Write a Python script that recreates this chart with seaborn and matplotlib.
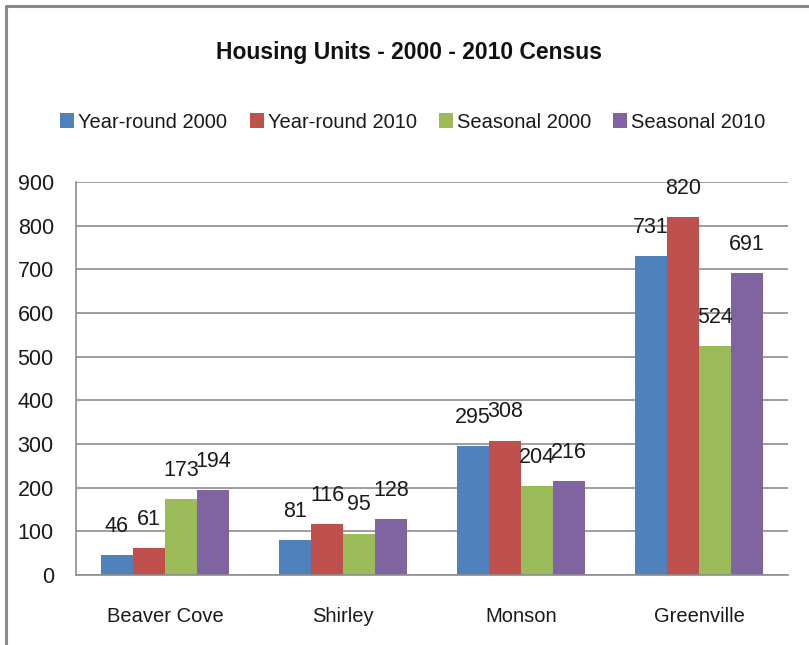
import matplotlib
matplotlib.use("Agg")
import matplotlib.pyplot as plt
import seaborn as sns
import pandas as pd
from matplotlib.lines import Line2D
from matplotlib.patches import Patch

towns = ["Beaver Cove", "Shirley", "Monson", "Greenville"]
series = ["Year-round 2000", "Year-round 2010", "Seasonal 2000", "Seasonal 2010"]
yr2000 = [46, 81, 295, 731]
yr2010 = [61, 116, 308, 820]
seas2000 = [173, 95, 204, 524]
seas2010 = [194, 128, 216, 691]
colors = ["#4F81BD", "#C0504D", "#9BBB59", "#8064A2"]
yticks = [0, 100, 200, 300, 400, 500, 600, 700, 800, 900]

rows = []
for s, vals in zip(series, [yr2000, yr2010, seas2000, seas2010]):
    for t, v in zip(towns, vals):
        rows.append({"Town": t, "Series": s, "Units": v})
df = pd.DataFrame(rows)

sns.set_theme(style="white")
FONT = ["Liberation Sans", "DejaVu Sans"]
plt.rcParams["font.family"] = FONT

W, H = 809, 645
fig = plt.figure(figsize=(W / 100, H / 100), dpi=100)
left, right, top, bottom = 76, 788, 182, 575
ax = fig.add_axes([left / W, 1 - bottom / H, (right - left) / W, (bottom - top) / H])

sns.barplot(data=df, x="Town", y="Units", hue="Series", order=towns,
            hue_order=series, palette=colors, width=0.72, saturation=1,
            ax=ax, legend=False, errorbar=None, linewidth=0)

for c in ax.containers:
    ax.bar_label(c, labels=[f"{int(v)}" for v in c.datavalues], padding=13,
                 fontsize=15.5, color="#1a1a1a")

ax.set_ylim(0, 900)
ax.set_yticks(yticks)
ax.set_xlim(-0.5, 3.5)
ax.yaxis.grid(True, color="#8c8c8c", linewidth=1.2)
ax.set_axisbelow(True)
ax.set_xlabel("")
ax.set_ylabel("")
for sp in ["top", "right"]:
    ax.spines[sp].set_visible(False)
for sp in ["left", "bottom"]:
    ax.spines[sp].set_color("#8c8c8c")
    ax.spines[sp].set_linewidth(1.2)
ax.tick_params(axis="y", labelsize=15.5, pad=16, length=0, colors="#1a1a1a")
ax.tick_params(axis="x", labelsize=14.5, pad=23, length=0, colors="#1a1a1a")

fig.text(409 / W, 1 - 52 / H, "Housing Units - 2000 - 2010 Census",
         ha="center", va="center", fontsize=16.5, fontweight="bold", color="#111111")

handles = [Patch(facecolor=c, edgecolor="none") for c in colors]
fig.legend(handles, series, loc="center", bbox_to_anchor=(413 / W, 1 - 122 / H),
           ncol=4, frameon=False, fontsize=14.5, handlelength=0.7, handleheight=0.7,
           handletextpad=0.2, columnspacing=1.1, labelcolor="#1a1a1a")

# chart border (top and left visible)
fig.add_artist(Line2D([6 / W, 1.0], [1 - 6 / H, 1 - 6 / H], color="#8a8a8a", linewidth=2.2))
fig.add_artist(Line2D([6 / W, 6 / W], [0.0, 1 - 6 / H], color="#8a8a8a", linewidth=2.2))

fig.savefig("out.png", dpi=100, facecolor="white")
